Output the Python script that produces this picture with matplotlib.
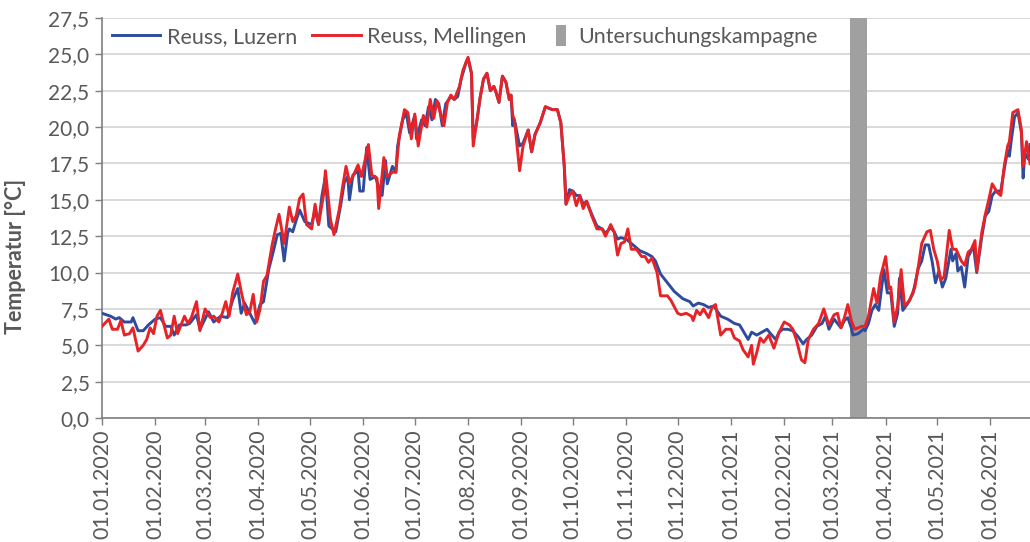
import matplotlib
matplotlib.use("Agg")
import matplotlib.pyplot as plt
import matplotlib.dates as mdates
from matplotlib.patches import Rectangle, Patch
from matplotlib.lines import Line2D
from matplotlib.legend_handler import HandlerPatch
import pandas as pd

# ---- data (day offset from 01.01.2020, temperature in °C) ----
start_date = "2020-01-01"
luzern_day = [0, 5, 8, 10, 13, 17, 18, 21, 24, 27, 31, 34, 37, 40, 42, 45, 49, 51, 55, 57,
              62, 65, 69, 73, 76, 79, 81, 83, 86, 89, 92, 94, 97, 100, 102, 104, 106, 108, 109, 111,
              113, 115, 118, 120, 122, 124, 126, 128, 130, 132, 134, 136, 139, 141, 143, 144, 146, 149, 150, 152,
              154, 156, 159, 161, 163, 165, 166, 169, 171, 172, 175, 177, 179, 182, 183, 186, 188, 190, 192, 194,
              196, 198, 200, 203, 205, 207, 209, 212, 213, 215, 216, 218, 220, 222, 224, 226, 228, 229, 231, 233,
              235, 237, 238, 239, 240, 243, 245, 248, 250, 252, 255, 258, 262, 265, 267, 269, 270, 272, 274, 276,
              278, 280, 282, 285, 288, 291, 293, 296, 298, 300, 302, 305, 309, 313, 317, 320, 322, 325, 329, 333,
              336, 338, 342, 344, 347, 350, 353, 356, 360, 364, 368, 371, 376, 378, 381, 384, 387, 389, 392, 394,
              396, 399, 402, 405, 408, 410, 413, 416, 419, 421, 423, 426, 430, 432, 434, 436, 437, 440, 443, 444,
              446, 448, 450, 452, 455, 457, 459, 461, 463, 464, 466, 469, 472, 475, 477, 479, 481, 483, 485, 487,
              489, 491, 494, 495, 497, 498, 500, 502, 504, 505, 507, 509, 512, 514, 516, 518, 520, 523, 525, 527,
              528, 529, 531, 533, 535, 536, 537, 539, 540]
luzern_temp = [7.2, 7.0, 6.8, 6.9, 6.6, 6.6, 6.9, 6.0, 6.0, 6.4, 6.8, 6.9, 6.3, 6.3, 5.7, 6.4, 6.4, 6.5, 7.1, 6.1,
               7.3, 6.6, 7.0, 6.9, 8.1, 8.9, 7.2, 7.9, 7.2, 6.5, 7.8, 8.0, 10.2, 11.6, 12.6, 12.7, 10.8, 12.7, 13.0, 12.8,
               13.6, 14.3, 13.5, 13.4, 13.3, 14.3, 13.3, 15.3, 16.6, 13.2, 13.0, 12.8, 14.7, 16.2, 16.6, 15.0, 16.7, 17.0, 15.6, 15.6,
               18.6, 16.4, 16.6, 15.9, 15.3, 17.7, 16.1, 17.3, 16.9, 18.7, 20.5, 21.0, 19.6, 20.8, 19.2, 20.5, 20.1, 21.4, 20.5, 21.9,
               21.6, 20.1, 21.6, 22.1, 21.9, 22.1, 23.3, 24.5, 24.7, 23.7, 19.2, 20.3, 22.0, 23.3, 23.7, 22.5, 22.8, 22.5, 21.7, 23.5,
               23.1, 21.9, 22.2, 20.1, 20.5, 18.7, 18.9, 19.8, 18.3, 19.5, 20.3, 21.4, 21.2, 21.2, 20.3, 17.3, 14.7, 15.7, 15.6, 15.3,
               15.3, 14.7, 14.9, 14.0, 13.2, 13.0, 12.7, 13.1, 12.8, 12.3, 12.4, 12.3, 11.9, 11.5, 11.3, 11.1, 10.8, 9.9, 9.3, 8.7,
               8.4, 8.2, 8.0, 7.7, 7.9, 7.8, 7.6, 7.7, 7.0, 6.8, 6.5, 6.4, 5.4, 5.9, 5.7, 5.9, 6.1, 5.8, 5.4, 5.9,
               6.1, 6.1, 6.0, 5.6, 5.1, 5.4, 5.7, 6.3, 6.5, 7.0, 6.1, 6.8, 6.2, 6.7, 6.9, 6.2, 5.7, 5.8, 6.1, 6.0,
               6.5, 7.4, 7.8, 7.4, 10.2, 8.6, 8.6, 6.3, 7.2, 9.6, 7.4, 7.9, 8.6, 10.3, 10.8, 11.9, 11.9, 10.8, 9.3, 10.1,
               9.0, 9.6, 11.6, 10.8, 11.3, 10.1, 10.4, 9.0, 11.1, 11.3, 11.9, 10.0, 12.5, 13.9, 14.2, 15.3, 15.6, 15.6, 17.1, 18.4,
               18.0, 19.0, 20.7, 21.0, 19.6, 16.5, 18.2, 17.8, 18.8]
mellingen_day = [0, 4, 6, 9, 11, 13, 16, 18, 21, 24, 26, 28, 30, 32, 34, 38, 40, 42, 44, 46,
                 48, 50, 52, 55, 57, 60, 63, 65, 68, 70, 72, 74, 76, 79, 81, 84, 86, 88, 90, 92,
                 94, 96, 99, 101, 103, 106, 109, 111, 113, 115, 117, 119, 122, 124, 126, 129, 130, 133, 135, 138,
                 140, 142, 144, 146, 149, 151, 155, 157, 160, 161, 164, 166, 169, 171, 173, 176, 178, 180, 182, 184,
                 187, 189, 191, 193, 195, 199, 201, 203, 205, 208, 210, 213, 215, 216, 218, 220, 222, 224, 226, 228,
                 229, 231, 233, 235, 237, 238, 239, 240, 243, 245, 248, 250, 252, 255, 258, 262, 265, 267, 269, 270,
                 272, 274, 276, 278, 280, 282, 285, 288, 291, 293, 296, 298, 300, 302, 304, 306, 308, 311, 314, 316,
                 318, 320, 323, 325, 329, 331, 335, 337, 340, 343, 344, 346, 348, 350, 353, 355, 357, 360, 363, 366,
                 368, 371, 373, 376, 378, 379, 381, 383, 385, 388, 391, 394, 397, 400, 402, 404, 407, 409, 411, 414,
                 417, 420, 423, 426, 428, 430, 432, 434, 436, 438, 442, 444, 446, 449, 451, 453, 456, 458, 459, 461,
                 463, 465, 467, 470, 473, 475, 477, 480, 482, 484, 486, 488, 490, 493, 495, 497, 500, 502, 504, 506,
                 508, 509, 512, 514, 516, 518, 521, 523, 525, 527, 528, 530, 533, 535, 536, 538, 540]
mellingen_temp = [6.3, 6.8, 6.1, 6.1, 6.7, 5.7, 5.8, 6.2, 4.6, 5.0, 5.4, 6.2, 5.8, 7.0, 7.4, 5.5, 5.7, 7.0, 5.8, 6.4,
                  7.0, 6.5, 6.9, 8.0, 6.0, 7.5, 6.9, 7.0, 6.6, 7.2, 8.0, 7.0, 8.6, 9.9, 8.7, 7.1, 7.3, 8.5, 6.6, 7.5,
                  9.4, 9.8, 11.9, 13.0, 14.0, 12.0, 14.5, 13.5, 13.9, 15.1, 15.4, 13.3, 13.0, 14.7, 13.3, 15.4, 17.0, 13.6, 12.6, 14.3,
                  15.9, 17.3, 16.2, 16.6, 17.4, 16.6, 18.8, 16.7, 16.5, 14.4, 17.9, 16.6, 16.9, 16.9, 19.4, 21.2, 21.0, 19.2, 20.9, 18.7,
                  20.8, 20.0, 21.9, 20.6, 21.8, 20.1, 21.7, 22.2, 21.9, 22.8, 23.9, 24.8, 23.7, 18.7, 20.3, 22.0, 23.3, 23.7, 22.5, 22.8,
                  22.5, 21.7, 23.5, 23.1, 21.9, 22.2, 20.8, 20.5, 17.0, 18.7, 19.8, 18.3, 19.5, 20.3, 21.4, 21.2, 21.2, 20.3, 17.3, 14.7,
                  15.3, 15.6, 14.6, 15.3, 14.4, 14.9, 13.9, 13.0, 13.0, 12.5, 13.3, 12.8, 11.2, 12.0, 12.1, 13.0, 11.6, 11.6, 11.1, 11.1,
                  10.7, 11.0, 10.0, 8.4, 8.4, 8.1, 7.2, 7.1, 7.2, 7.0, 6.7, 7.4, 7.1, 7.5, 6.9, 7.6, 7.8, 5.7, 6.1, 6.1,
                  5.5, 5.3, 4.7, 4.2, 5.0, 3.7, 4.5, 5.5, 5.2, 5.7, 4.8, 5.9, 6.6, 6.4, 6.1, 5.4, 4.0, 3.8, 5.4, 6.1,
                  6.5, 7.5, 6.4, 7.1, 7.2, 6.2, 6.9, 7.8, 6.7, 6.1, 6.3, 6.3, 7.0, 8.9, 7.9, 9.7, 11.1, 8.9, 9.0, 6.6,
                  7.7, 10.2, 7.7, 8.1, 9.0, 10.4, 12.0, 12.8, 12.9, 11.6, 10.8, 9.5, 9.7, 12.9, 11.6, 11.6, 10.8, 10.5, 11.4, 11.6,
                  12.2, 10.1, 12.8, 14.0, 15.0, 16.1, 15.5, 15.3, 17.3, 18.7, 19.0, 21.0, 21.2, 19.8, 17.3, 19.0, 17.5]
campaign_start = "2021-03-11"
campaign_end = "2021-03-21"
x_start = "2020-01-01"
x_end = "2021-06-24"
y_ticks = [0, 2.5, 5, 7.5, 10, 12.5, 15, 17.5, 20, 22.5, 25, 27.5]
series_labels = ["Reuss, Luzern", "Reuss, Mellingen", "Untersuchungskampagne"]
y_label = "Temperatur [°C]"

t0 = pd.Timestamp(start_date)
luzern_dates = t0 + pd.to_timedelta(luzern_day, unit="D")
mellingen_dates = t0 + pd.to_timedelta(mellingen_day, unit="D")

# ---- styling ----
FONT = ["Lato", "DejaVu Sans"]
plt.rcParams["font.family"] = FONT
TXT = "#595959"
BLUE = "#2F4B9E"
RED = "#E62327"
GREY = "#A0A0A0"

fig = plt.figure(figsize=(10.30, 5.42), dpi=100)
ax = fig.add_axes([102 / 1030, 1 - 418 / 542, 1 - 102 / 1030, 400 / 542])

ax.axvspan(pd.Timestamp(campaign_start), pd.Timestamp(campaign_end), ymin=0, ymax=1,
           color=GREY, lw=0, zorder=1)
ax.plot(luzern_dates, luzern_temp, color=BLUE, lw=2.1, zorder=3, solid_joinstyle="round")
ax.plot(mellingen_dates, mellingen_temp, color=RED, lw=2.1, zorder=4, solid_joinstyle="round")

ax.set_ylim(0, 27.5)
ax.set_xlim(pd.Timestamp(x_start), pd.Timestamp(x_end))
ax.set_yticks(y_ticks)
ax.set_yticklabels([f"{v:.1f}".replace(".", ",") for v in y_ticks])
ax.yaxis.grid(True, color="#D9D9D9", lw=1.4, zorder=0)
ax.set_axisbelow(True)

ax.xaxis.set_major_locator(mdates.MonthLocator(bymonthday=1))
ax.xaxis.set_major_formatter(mdates.DateFormatter("%d.%m.%Y"))

ax.tick_params(axis="y", colors=TXT, labelsize=15, length=5, width=1, color="#7F7F7F", pad=4)
ax.tick_params(axis="x", colors=TXT, labelsize=15.5, length=5, width=1, color="#7F7F7F", pad=3)
for lab in ax.get_xticklabels():
    lab.set_rotation(90)

for s in ["top", "right"]:
    ax.spines[s].set_visible(False)
for s in ["left", "bottom"]:
    ax.spines[s].set_color("#7F7F7F")
    ax.spines[s].set_linewidth(1.2)

fig.text(16 / 1030, 1 - 256 / 542, y_label, rotation=90, ha="center", va="center",
         fontsize=15.5, fontweight="bold", color=TXT)


class NarrowPatchHandler(HandlerPatch):
    def create_artists(self, legend, orig_handle, xdescent, ydescent, width, height,
                       fontsize, trans):
        h = height * 1.4
        r = Rectangle((-xdescent, -ydescent - (h - height) / 2), width, h,
                      facecolor=GREY, edgecolor="none", transform=trans)
        return [r]


line_handles = [Line2D([], [], color=BLUE, lw=2.1),
                Line2D([], [], color=RED, lw=2.1)]
leg1 = ax.legend(line_handles, series_labels[:2], loc="center left",
                 bbox_to_anchor=(10 / 926, 1 - 19 / 400), ncol=2, frameon=False,
                 fontsize=15.5, handlelength=2.25, handletextpad=0.3, columnspacing=0.7,
                 borderpad=0, borderaxespad=0)
for t in leg1.get_texts():
    t.set_color(TXT)
ax.add_artist(leg1)

leg2 = ax.legend([Patch(color=GREY)], series_labels[2:], loc="center left",
                 bbox_to_anchor=((555 - 102) / 926, 1 - 19 / 400), frameon=False,
                 fontsize=15.5, handlelength=0.47, handletextpad=0.55,
                 borderpad=0, borderaxespad=0,
                 handler_map={Patch: NarrowPatchHandler()})
for t in leg2.get_texts():
    t.set_color(TXT)

fig.savefig("out.png", dpi=100)
